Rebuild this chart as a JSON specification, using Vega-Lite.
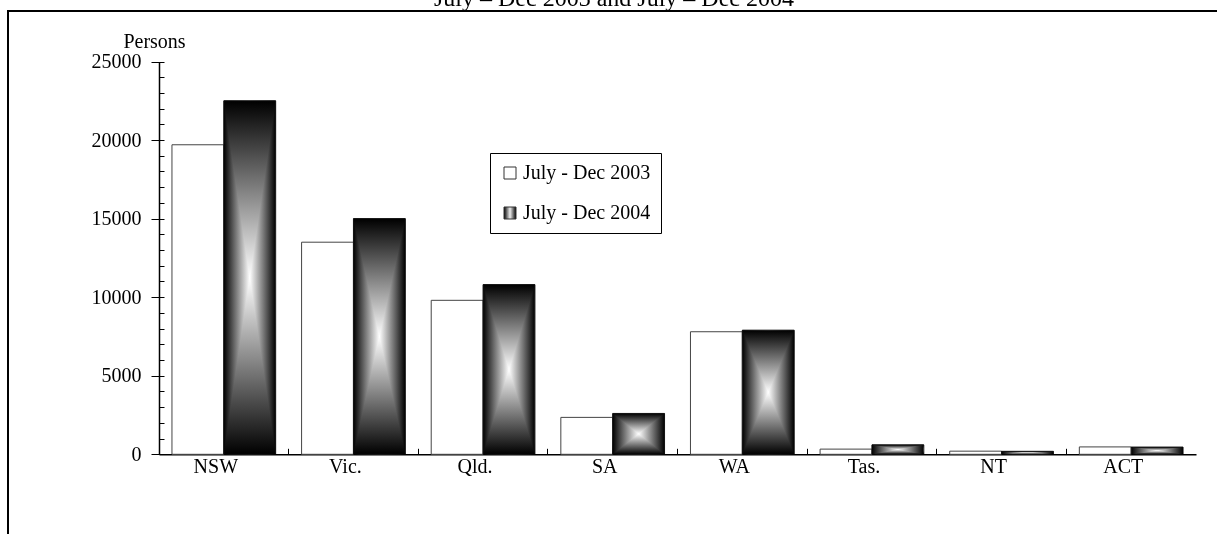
{
  "$schema": "https://vega.github.io/schema/vega-lite/v6.json",
  "width": 1212,
  "height": 527,
  "autosize": {"type": "none"},
  "padding": {"left": 8, "top": 11, "right": -3, "bottom": -4},
  "background": "white",
  "title": {
    "text": "July – Dec 2003 and July – Dec 2004",
    "font": "Liberation Serif",
    "fontSize": 24,
    "fontWeight": "normal",
    "color": "black",
    "anchor": "middle",
    "frame": "group",
    "offset": -19,
    "baseline": "alphabetic"
  },
  "config": {
    "font": "Liberation Serif",
    "view": {"stroke": "black", "strokeWidth": 2},
    "axis": {
      "labelFont": "Liberation Serif",
      "labelFontSize": 20,
      "labelColor": "black",
      "titleFont": "Liberation Serif",
      "titleColor": "black",
      "tickColor": "black",
      "domainColor": "black",
      "grid": false
    }
  },
  "data": {
    "values": [
      {"region": "NSW", "period": "July - Dec 2003", "persons": 19700},
      {"region": "NSW", "period": "July - Dec 2004", "persons": 22500},
      {"region": "Vic.", "period": "July - Dec 2003", "persons": 13500},
      {"region": "Vic.", "period": "July - Dec 2004", "persons": 15000},
      {"region": "Qld.", "period": "July - Dec 2003", "persons": 9800},
      {"region": "Qld.", "period": "July - Dec 2004", "persons": 10800},
      {"region": "SA", "period": "July - Dec 2003", "persons": 2350},
      {"region": "SA", "period": "July - Dec 2004", "persons": 2600},
      {"region": "WA", "period": "July - Dec 2003", "persons": 7800},
      {"region": "WA", "period": "July - Dec 2004", "persons": 7900},
      {"region": "Tas.", "period": "July - Dec 2003", "persons": 330},
      {"region": "Tas.", "period": "July - Dec 2004", "persons": 600},
      {"region": "NT", "period": "July - Dec 2003", "persons": 200},
      {"region": "NT", "period": "July - Dec 2004", "persons": 190},
      {"region": "ACT", "period": "July - Dec 2003", "persons": 470},
      {"region": "ACT", "period": "July - Dec 2004", "persons": 460}
    ]
  },
  "layer": [
    {
      "transform": [{"filter": "datum.period === 'July - Dec 2003'"}],
      "mark": {"type": "bar", "stroke": "#444444", "strokeWidth": 1},
      "encoding": {
        "x": {
          "field": "region", "type": "nominal",
          "scale": {"domain": ["NSW", "Vic.", "Qld.", "SA", "WA", "Tas.", "NT", "ACT"], "range": [151, 1188], "paddingInner": 0.2, "paddingOuter": 0.1},
          "axis": {"orient": "bottom", "offset": -83.7, "ticks": false, "domainWidth": 1.5, "labelAngle": 0, "labelPadding": 2, "labelOffset": -8, "title": null}
        },
        "xOffset": {"field": "period", "scale": {"domain": ["July - Dec 2003", "July - Dec 2004"], "paddingInner": 0, "paddingOuter": 0}},
        "y": {
          "field": "persons", "type": "quantitative",
          "scale": {"domain": [0, 25000], "range": [443.3, 50.5], "nice": false, "zero": true},
          "axis": {"orient": "left", "offset": -151, "values": [0, 5000, 10000, 15000, 20000, 25000], "format": "d", "tickSize": 8, "domainWidth": 1.5, "labelPadding": 10, "title": "Persons", "titleFontSize": 20, "titleFontWeight": "normal", "titleAngle": 0, "titleX": -5, "titleY": 36, "titleAlign": "center", "titleBaseline": "alphabetic"}
        },
        "fill": {
          "field": "period", "type": "nominal",
          "scale": {"domain": ["July - Dec 2003"], "range": ["white"]},
          "legend": null
        },
        "opacity": {
          "field": "period", "type": "ordinal",
          "scale": {"domain": ["July - Dec 2003", "July - Dec 2004"], "range": [1, 1]},
          "legend": {
            "orient": "none", "legendX": 482, "legendY": 142, "title": null,
            "symbolType": "square", "symbolSize": 144,
            "symbolFillColor": {"expr": "datum.value === 'July - Dec 2004' ? {gradient: 'linear', x1: 0, y1: 0, x2: 1, y2: 0, stops: [{offset: 0, color: '#000000'}, {offset: 0.5, color: '#eeeeee'}, {offset: 1, color: '#000000'}]} : '#ffffff'"},
            "symbolStrokeColor": "#333333", "symbolStrokeWidth": 1,
            "labelFont": "Liberation Serif", "labelFontSize": 20, "labelColor": "black", "labelOffset": 3,
            "padding": 10, "rowPadding": 20, "strokeColor": "black", "fillColor": "white"
          }
        }
      }
    },
    {
      "transform": [{"filter": "datum.period === 'July - Dec 2004'"}],
      "mark": {
        "type": "bar", "strokeWidth": 0,
        "fill": {"gradient": "linear", "x1": 0, "y1": 0, "x2": 1, "y2": 0, "stops": [{"offset": 0, "color": "#000000"}, {"offset": 0.5, "color": "#ffffff"}, {"offset": 1, "color": "#000000"}]}
      },
      "encoding": {
        "x": {
          "field": "region", "type": "nominal",
          "scale": {"domain": ["NSW", "Vic.", "Qld.", "SA", "WA", "Tas.", "NT", "ACT"], "range": [151, 1188], "paddingInner": 0.2, "paddingOuter": 0.1},
          "axis": {"orient": "bottom", "offset": -83.7, "bandPosition": -0.125, "ticks": true, "tickSize": -6, "labels": false, "domain": false, "title": null}
        },
        "xOffset": {"field": "period", "scale": {"domain": ["July - Dec 2003", "July - Dec 2004"], "paddingInner": 0, "paddingOuter": 0}},
        "y": {
          "field": "persons", "type": "quantitative",
          "scale": {"domain": [0, 25000], "range": [443.3, 50.5], "nice": false, "zero": true},
          "axis": {"orient": "left", "offset": -151, "values": [0, 1000, 2000, 3000, 4000, 5000, 6000, 7000, 8000, 9000, 10000, 11000, 12000, 13000, 14000, 15000, 16000, 17000, 18000, 19000, 20000, 21000, 22000, 23000, 24000, 25000], "tickSize": -5, "labels": false, "domain": false, "title": null}
        }
      }
    },
    {
      "transform": [{"filter": "datum.period === 'July - Dec 2004'"}],
      "mark": {
        "type": "bar", "stroke": "#111111", "strokeWidth": 1, "blend": "darken",
        "fill": {"gradient": "linear", "x1": 0, "y1": 0, "x2": 0, "y2": 1, "stops": [{"offset": 0, "color": "#000000"}, {"offset": 0.5, "color": "#ffffff"}, {"offset": 1, "color": "#000000"}]}
      },
      "encoding": {
        "x": {
          "field": "region", "type": "nominal",
          "scale": {"domain": ["NSW", "Vic.", "Qld.", "SA", "WA", "Tas.", "NT", "ACT"], "range": [151, 1188], "paddingInner": 0.2, "paddingOuter": 0.1},
          "axis": null
        },
        "xOffset": {"field": "period", "scale": {"domain": ["July - Dec 2003", "July - Dec 2004"], "paddingInner": 0, "paddingOuter": 0}},
        "y": {
          "field": "persons", "type": "quantitative",
          "scale": {"domain": [0, 25000], "range": [443.3, 50.5], "nice": false, "zero": true},
          "axis": null
        }
      }
    }
  ],
  "resolve": {"axis": {"x": "independent", "y": "independent"}}
}
